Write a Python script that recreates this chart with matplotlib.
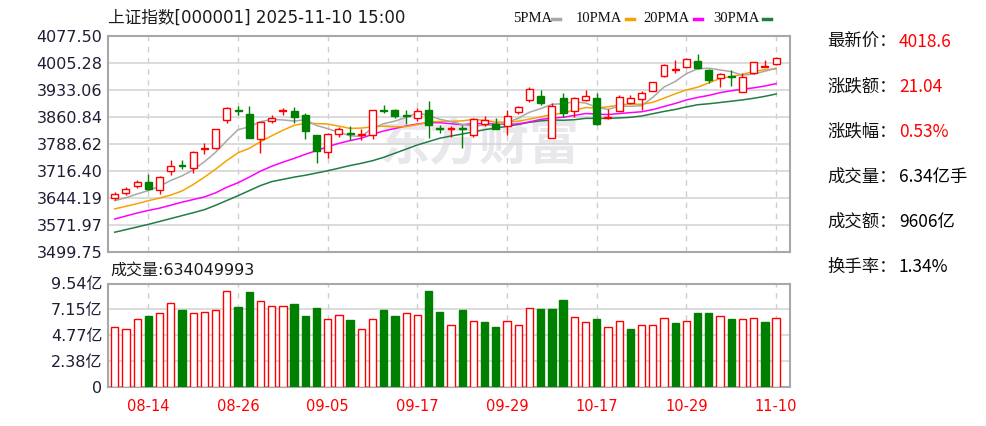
import matplotlib.pyplot as plt
from matplotlib.lines import Line2D

plt.rcParams['font.family'] = ['DejaVu Sans', 'Noto Sans CJK SC']

# 上证指数 日K 2025-08-11 ~ 2025-11-10
dates = ['08-11', '08-12', '08-13', '08-14', '08-15', '08-18', '08-19', '08-20', '08-21', '08-22',
         '08-25', '08-26', '08-27', '08-28', '08-29', '09-01', '09-02', '09-03', '09-04', '09-05',
         '09-08', '09-09', '09-10', '09-11', '09-12', '09-15', '09-16', '09-17', '09-18', '09-19',
         '09-22', '09-23', '09-24', '09-25', '09-26', '09-29', '09-30', '10-09', '10-10', '10-13',
         '10-14', '10-15', '10-16', '10-17', '10-20', '10-21', '10-22', '10-23', '10-24', '10-27',
         '10-28', '10-29', '10-30', '10-31', '11-03', '11-04', '11-05', '11-06', '11-07', '11-10']

opens = [3645, 3656.5, 3676, 3688, 3666, 3717, 3732, 3723.5, 3776, 3777,
         3854, 3878.5, 3869.5, 3801, 3851, 3876.5, 3877.5, 3866, 3811.5, 3767.5,
         3816, 3818.5, 3813.5, 3811.5, 3879.5, 3879.5, 3866.5, 3857.5, 3880, 3832,
         3829.5, 3831, 3811.5, 3843, 3842.5, 3838, 3873, 3905, 3918, 3805.5,
         3913, 3876, 3905, 3913, 3858, 3877.5, 3899.5, 3908.5, 3931.5, 3971,
         3987.5, 3994.5, 4009.5, 3986, 3964, 3970, 3928.5, 3979.5, 3995.5, 4003.5]
highs = [3660, 3673, 3693.5, 3708.5, 3704, 3745.5, 3745.5, 3770, 3790.5, 3829,
         3887.5, 3889, 3891, 3848.5, 3867, 3884.5, 3887.5, 3871.5, 3813.5, 3818.5,
         3834.5, 3838, 3829, 3880, 3893.5, 3882, 3880, 3884.5, 3904, 3840.5,
         3838, 3840.5, 3858, 3864.5, 3858, 3880, 3891, 3940, 3933, 3898,
         3924.5, 3915.5, 3933, 3924.5, 3881, 3920, 3920, 3930.5, 3955, 4003.5,
         4012.5, 4018.5, 4030, 3988, 3979, 3987.5, 3979, 4008, 4012.5, 4021]
lows = [3638, 3651, 3670.5, 3664.5, 3654, 3706.5, 3721.5, 3711, 3763, 3774.5,
        3845, 3865, 3804.5, 3765.5, 3845, 3867, 3845, 3801, 3737.5, 3750,
        3808, 3798.5, 3798.5, 3801, 3871.5, 3858, 3842.5, 3851, 3805.5, 3818.5,
        3808, 3779, 3808, 3836, 3827.5, 3814, 3869.5, 3902, 3893.5, 3804.5,
        3861, 3861, 3904, 3839, 3855, 3876, 3896, 3880, 3929.5, 3968.5,
        3979, 3993, 3990, 3953, 3940, 3944.5, 3927, 3977, 3995, 4001]
closes = [3654, 3668, 3688, 3669, 3700, 3730.5, 3729.5, 3767.5, 3778, 3827.5,
          3885.5, 3876, 3805.5, 3847, 3858, 3878.5, 3861, 3823, 3770, 3816,
          3829, 3814.5, 3816, 3878.5, 3877.5, 3863, 3864, 3877.5, 3840.5, 3829,
          3831, 3828, 3855, 3852, 3830, 3864.5, 3886.5, 3935, 3899.5, 3889,
          3871.5, 3913, 3918, 3843, 3860, 3915.5, 3911, 3926, 3953.5, 3999,
          3989.5, 4016, 3992, 3959.5, 3977, 3966.5, 3968.5, 4007, 3997.56, 4018.6]

# 成交量（亿）
volumes = [5.54, 5.38, 6.22, 6.52, 6.77, 7.75, 7.08, 6.77, 6.92, 7.08,
           8.86, 7.38, 8.74, 7.88, 7.48, 7.48, 7.66, 6.52, 7.23, 6.22,
           6.65, 6.12, 5.38, 6.22, 7.08, 6.52, 6.77, 6.65, 8.86, 6.92,
           5.66, 7.08, 6.06, 5.97, 5.54, 6.06, 5.66, 7.29, 7.20, 7.20,
           8.03, 6.46, 5.94, 6.22, 5.54, 6.06, 5.38, 5.66, 5.66, 6.34,
           5.85, 6.09, 6.77, 6.77, 6.49, 6.22, 6.22, 6.34, 5.97, 6.34]

ma5 = [3637, 3645, 3655, 3664, 3675.8, 3691.1, 3703.4, 3719.3, 3741.1, 3766.6,
       3797.6, 3826.9, 3834.5, 3848.3, 3854.4, 3853.0, 3850.0, 3853.5, 3838.1, 3829.7,
       3819.8, 3810.5, 3809.1, 3830.8, 3843.1, 3849.9, 3859.8, 3872.1, 3864.5, 3854.8,
       3848.4, 3841.2, 3836.7, 3839.0, 3839.2, 3845.9, 3857.6, 3873.6, 3883.1, 3894.9,
       3896.3, 3901.6, 3898.2, 3886.9, 3881.1, 3889.9, 3889.5, 3891.1, 3913.2, 3941.0,
       3955.8, 3976.8, 3990.0, 3991.2, 3986.8, 3982.2, 3972.7, 3975.7, 3983.3, 3991.6]
ma10 = [3615, 3622, 3629, 3637, 3644, 3652, 3663, 3680, 3700, 3721.2,
        3744.4, 3765.2, 3776.9, 3794.7, 3810.5, 3825.3, 3838.5, 3844.0, 3843.2, 3842.1,
        3836.4, 3830.3, 3831.3, 3834.5, 3836.4, 3834.9, 3835.2, 3840.6, 3847.7, 3849.0,
        3849.2, 3850.5, 3854.4, 3851.8, 3847.0, 3847.2, 3849.4, 3855.2, 3861.1, 3867.1,
        3871.1, 3879.6, 3885.9, 3885.0, 3888.0, 3893.1, 3895.6, 3894.7, 3900.1, 3911.1,
        3922.9, 3933.2, 3940.6, 3952.2, 3963.9, 3969.0, 3974.8, 3982.9, 3987.3, 3989.2]
ma20 = [3588, 3596, 3604, 3611, 3617, 3625, 3633, 3640, 3647, 3658,
        3673, 3685, 3700, 3716, 3729, 3740, 3750, 3761, 3771, 3781.6,
        3790.4, 3797.7, 3804.1, 3814.6, 3823.5, 3830.1, 3836.8, 3842.3, 3845.4, 3845.5,
        3842.8, 3840.4, 3842.9, 3843.1, 3841.7, 3841.0, 3842.3, 3847.9, 3854.4, 3858.0,
        3860.1, 3865.0, 3870.2, 3868.4, 3867.5, 3870.1, 3872.5, 3874.9, 3880.6, 3889.0,
        3897.0, 3906.4, 3913.2, 3918.6, 3926.0, 3931.0, 3935.2, 3938.8, 3943.7, 3950.1]
ma30 = [3552.6, 3559.6, 3566.6, 3573.7, 3581.4, 3589.2, 3597.0, 3604.8, 3613.0, 3624.7,
        3637.5, 3650.3, 3663.9, 3677.4, 3688.0, 3694.0, 3700.0, 3705.0, 3711.0, 3717.0,
        3724.0, 3731.0, 3737.0, 3744.0, 3753.0, 3764.0, 3775.0, 3786.0, 3795.0, 3804.1,
        3810.0, 3815.3, 3820.9, 3827.0, 3831.3, 3835.8, 3841.0, 3846.6, 3850.6, 3852.7,
        3852.2, 3853.5, 3857.2, 3857.1, 3857.1, 3858.4, 3860.0, 3863.5, 3869.6, 3875.7,
        3881.0, 3887.8, 3893.6, 3896.3, 3899.6, 3903.1, 3906.6, 3910.9, 3916.1, 3922.4]

price_ticks = [3499.75, 3571.97, 3644.19, 3716.40, 3788.62, 3860.84, 3933.06, 4005.28, 4077.50]
vol_ticks = [0, 2.385, 4.77, 7.155, 9.54]
vol_labels = ['0', '2.38亿', '4.77亿', '7.15亿', '9.54亿']
date_ticks = ['08-14', '08-26', '09-05', '09-17', '09-29', '10-17', '10-29', '11-10']

info_labels = ['最新价：', '涨跌额：', '涨跌幅：', '成交量：', '成交额：', '换手率：']
info_values = ['4018.6', '21.04', '0.53%', '6.34亿手', '9606亿', '1.34%']
info_colors = ['#ff0000', '#ff0000', '#ff0000', '#000000', '#000000', '#000000']

RED = '#ff0000'
GREEN = '#008000'
W, H = 987, 426

fig = plt.figure(figsize=(W / 100, H / 100), dpi=100)
fig.patch.set_facecolor('white')

ax = fig.add_axes([108 / W, 1 - 252 / H, 682 / W, 216 / H])
axv = fig.add_axes([108 / W, 1 - 386.7 / H, 682 / W, 103.2 / H])

x = list(range(len(dates)))
tick_idx = [dates.index(d) for d in date_ticks]

for a in (ax, axv):
    a.set_xlim(-0.6, 60.24)
    for s in a.spines.values():
        s.set_color('#a8a8a8')
        s.set_linewidth(1.5)
    for t in tick_idx:
        a.axvline(t, color='#cfcfcf', lw=1.0, ls=(0, (4, 4)), zorder=0)
    a.tick_params(length=0, labelsize=11.5, labelcolor='#1e1e36', pad=4)

# watermark
ax.text((479 - 108) / 682, 1 - (146 - 36) / 216, '东方财富', transform=ax.transAxes,
        fontsize=36, fontweight='bold', color='#e8e8ec', ha='center', va='center',
        family=['Noto Sans CJK SC'], zorder=0)

# price panel
ax.set_ylim(price_ticks[0], price_ticks[-1])
ax.set_yticks(price_ticks)
ax.set_yticklabels([f'{v:.2f}' for v in price_ticks])
ax.yaxis.grid(True, color='#d6d6d6', lw=1.2)
ax.set_axisbelow(True)
ax.set_xticks([])

ax.plot(x, ma30, color='#1f7d45', lw=1.1, zorder=2)
ax.plot(x, ma20, color='#ff00ff', lw=1.1, zorder=2)
ax.plot(x, ma10, color='#f5a300', lw=1.1, zorder=2)
ax.plot(x, ma5, color='#a8a8a8', lw=1.1, zorder=2)

for i in x:
    o, h, l, c = opens[i], highs[i], lows[i], closes[i]
    up = c >= o
    col = RED if up else GREEN
    ax.vlines(i, l, h, color=col, lw=1.0, zorder=3)
    ax.bar(i, max(abs(c - o), 0.8), bottom=min(o, c), width=0.62,
           facecolor='white' if up else GREEN, edgecolor=col, lw=1.0, zorder=4)

# volume panel
axv.set_ylim(0, 9.54)
axv.set_yticks(vol_ticks)
axv.set_yticklabels(vol_labels)
axv.yaxis.grid(True, color='#d6d6d6', lw=1.2)
axv.set_axisbelow(True)
axv.set_xticks(tick_idx)
axv.set_xticklabels(date_ticks)
axv.tick_params(axis='x', labelcolor=RED, labelsize=10.5, pad=9)

for i in x:
    prev = closes[i - 1] if i > 0 else opens[i]
    up = closes[i] >= prev
    axv.bar(i, volumes[i], width=0.65, facecolor='white' if up else GREEN,
            edgecolor=RED if up else GREEN, lw=1.0, zorder=3)

# headers
fig.text(108 / W, 1 - 18 / H, '上证指数[000001] 2025-11-10 15:00', fontsize=12,
         color='#1a1a1a', va='center', ha='left')
fig.text(110 / W, 1 - 270 / H, '成交量:634049993', fontsize=11.5,
         color='#1a1a1a', va='center', ha='left')

legend_items = [('5PMA', 513, 552, '#a8a8a8'), ('10PMA', 576, 626, '#f5a300'),
                ('20PMA', 643, 694, '#ff00ff'), ('30PMA', 713, 763, '#1f7d45')]
for name, tx, dx, col in legend_items:
    fig.text(tx / W, 1 - 18 / H, name, fontsize=10.5, family=['Liberation Serif'],
             color='#111111', va='center', ha='left')
    fig.add_artist(Line2D([dx / W, (dx + 8) / W], [1 - 19 / H, 1 - 19 / H],
                          transform=fig.transFigure, color=col, lw=2.5))

# info panel
for k, (lab, val, col) in enumerate(zip(info_labels, info_values, info_colors)):
    y = 1 - (41.7 + 45 * k) / H
    fig.text(827 / W, y, lab, fontsize=12.5, family=['Noto Sans CJK SC'],
             color='#111111', va='center', ha='left')
    fig.text(899 / W, y, val, fontsize=12.5, family=['Noto Sans CJK SC', 'DejaVu Sans'],
             color=col, va='center', ha='left')

fig.savefig('out.png', dpi=100, facecolor='white')
